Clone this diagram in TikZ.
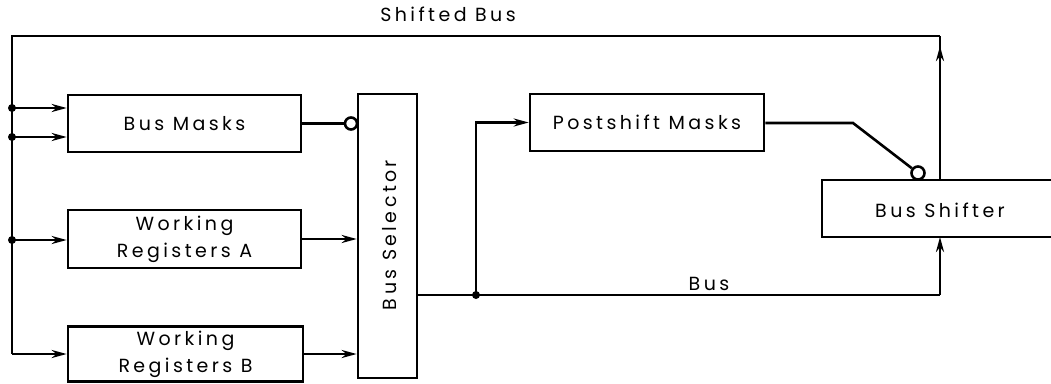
\documentclass[tikz,border=0pt]{standalone}
\usepackage{fontspec}
\setmainfont[LetterSpace=18]{Poppins}
\usetikzlibrary{arrows.meta,decorations.markings}
\begin{document}
\begin{tikzpicture}[x=1pt,y=-1pt,line width=2.6pt,
  txt/.style={font=\fontsize{19}{27}\selectfont},
  box/.style={draw,line width=2.6pt,minimum width=233pt,minimum height=57pt,inner sep=0pt,align=center,txt},
  lbl/.style={inner sep=0pt,txt},
  arr/.style={-{Stealth[length=15pt,width=8pt]}},
  dot/.style={circle,fill,inner sep=0pt,minimum size=8pt},
  ring/.style={circle,draw,line width=2.6pt,inner sep=0pt,minimum size=12pt,fill=white},
  uparrow/.style={postaction={decorate},decoration={markings,mark=at position 0.93 with {\arrow{Stealth[length=15pt,width=8pt]}}}}
]
\useasboundingbox (0,0) rectangle (1051,383);
% boxes
\node[box] (masks) at (184.5,123.5) {Bus Masks};
\node[box,minimum height=58pt] (wra) at (184.5,239) {Working\\Registers A};
\node[box,minimum width=235pt,minimum height=55pt] (wrb) at (185.5,354) {Working\\Registers B};
\node[box,minimum width=59pt,minimum height=284pt] (sel) at (387.5,236) {};
\node[lbl,rotate=90] (seltxt) at (390,235) {Bus Selector};
\node[box,minimum width=234pt] (post) at (647,122.5) {Postshift Masks};
\node[lbl] (shift) at (940,210) {Bus Shifter};
\coordinate (shTL) at (822,180);
\coordinate (shBL) at (822,237);
\coordinate (shTR) at (1060,180);
\coordinate (shBR) at (1060,237);
\draw (shTR) -- (shTL) -- (shBL) -- (shBR);
\coordinate (shT) at (940,180);
\coordinate (shB) at (940,237);
% labels
\node[lbl] (sbus) at (448,14) {Shifted Bus};
\node[lbl] (buslbl) at (709,284) {Bus};
% shifted bus loop
\coordinate (ctop) at (940,36);
\coordinate (ltop) at (12,36);
\coordinate (lbot) at (12,354);
\coordinate (j1) at (12,108);
\coordinate (j2) at (12,137);
\coordinate (j3) at (12,240);
\draw[uparrow] (shT) -- (ctop);
\draw[line join=miter] (ctop) -- (ltop) -- (lbot);
\draw[arr] (lbot) -- (wrb.west |- lbot);
\draw[arr] (j1) -- (masks.west |- j1);
\draw[arr] (j2) -- (masks.west |- j2);
\draw[arr] (j3) -- (wra.west |- j3);
\node[dot] (d1) at (j1) {};
\node[dot] (d2) at (j2) {};
\node[dot] (d3) at (j3) {};
% into selector
\node[ring] (r1) at (351,123.5) {};
\draw (masks.east) -- (r1);
\draw[arr] (wra.east) -- (sel.west |- wra.east);
\draw[arr] (wrb.east) -- (sel.west |- wrb.east);
% bus
\coordinate (bj) at (476,295);
\coordinate (bc) at (940,295);
\draw (sel.east |- bj) -- (bj) -- (bc);
\draw[arr] (bc) -- (shB);
\node[dot] (d4) at (bj) {};
\draw[arr] (bj) |- (post.west);
% postshift output
\coordinate (pk) at (853,123);
\node[ring,minimum size=13pt] (r2) at (918,173) {};
\draw (post.east |- pk) -- (pk) -- (r2);
\end{tikzpicture}
\end{document}
